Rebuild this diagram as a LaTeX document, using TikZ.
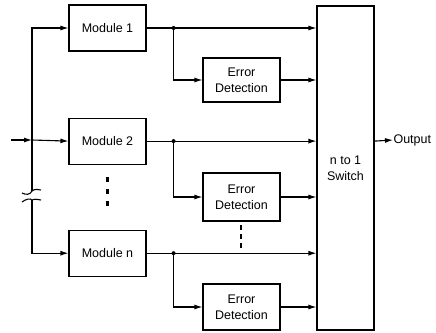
\documentclass[tikz,border=0pt]{standalone}
\usepackage{fontspec}
\setmainfont{Liberation Sans}
\usetikzlibrary{positioning,arrows.meta,calc}

\begin{document}
\begin{tikzpicture}[x=1pt,y=-1pt,font=\fontsize{12.5}{16}\selectfont,line width=1.1pt,node distance=66pt]
  \tikzstyle{b}=[draw,minimum height=46pt,minimum width=77pt,align=center,inner sep=0pt]
  \tikzstyle{arr}=[-{Latex[length=8pt,width=5pt]}]
  \useasboundingbox (0,0) rectangle (436,332);
  \node[b] (m1) at (107.5,28) {Module 1};
  \node[b,below=of m1] (m2) {Module 2};
  \node[b,below=65pt of m2] (mn) {Module n};
  \node[b,minimum height=44pt] (e1) at (241.5,80) {Error\\Detection};
  \node[b,minimum height=48pt] (e2) at (241.5,197) {Error\\Detection};
  \node[b,minimum height=46pt] (e3) at (241.5,307) {Error\\Detection};
  \node[b,minimum width=57pt,minimum height=324pt] (sw) at (345.5,168) {n to 1\\Switch};
  \node[anchor=west,inner sep=0pt] (out) at (393,140) {Output};
  % input bus with break
  \coordinate (in) at (11,140);
  \coordinate (bus) at (32,140);
  \coordinate (brka) at (32,191);
  \coordinate (brkb) at (32,200);
  \draw[arr] (in) -- (bus);
  \draw[arr] (brka) -- (bus |- m1) -- (m1.west);
  \draw[arr] (bus) -- (m2.west);
  \draw[arr] (brkb) -- (bus |- mn) -- (mn.west);
  \draw (22,193) .. controls (26,195) and (30,195) .. (brka) .. controls (34,189) and (38,189) .. (41,190);
  \draw (22,202) .. controls (26,199) and (30,198) .. (brkb) .. controls (34,199) and (38,199) .. (41,200);
  % module outputs and taps
  \foreach \m/\e in {m1/e1,m2/e2,mn/e3}{
    \coordinate (j\m) at ($(\m.east)+(27pt,0)$);
    \draw[arr] (\m.east) -- (\m.east -| sw.west);
    \fill (j\m) circle (2pt);
    \draw[arr] (j\m) |- (\e.west);
    \draw[arr] (\e.east) -- (\e.east -| sw.west);
  }
  \draw[arr] (sw.east |- m2) -- (out.west);
  % vertical dots
  \draw[line width=3pt,dash pattern=on 5pt off 7pt] (107,177) -- (107,207);
  \draw[line width=2.5pt,dash pattern=on 5pt off 4pt] (241,225) -- (241,248);
\end{tikzpicture}
\end{document}
